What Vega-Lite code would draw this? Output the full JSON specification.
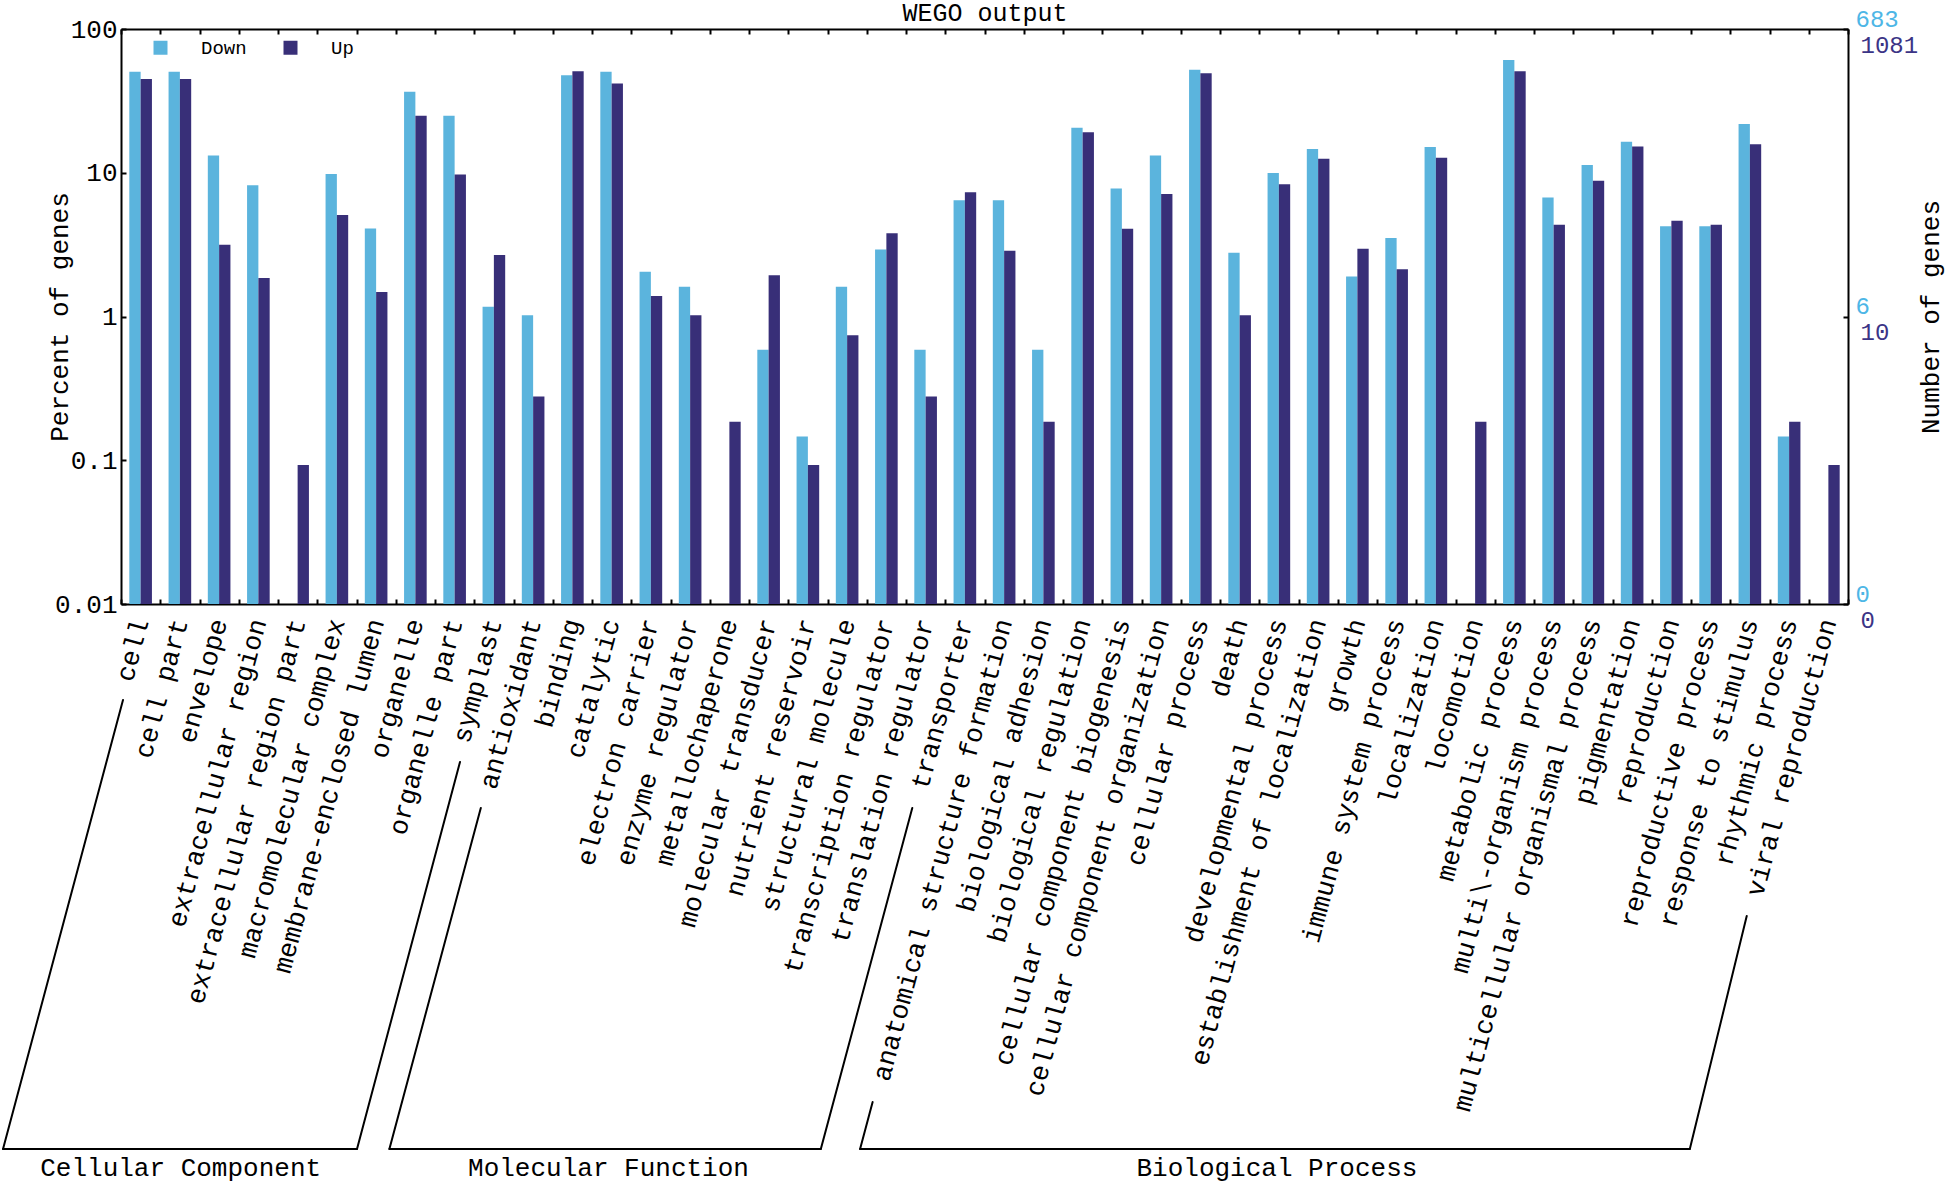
{
  "$schema": "https://vega.github.io/schema/vega-lite/v6.json",
  "width": 1727,
  "height": 575,
  "autosize": "none",
  "padding": {"left": 121, "top": 29, "right": 98, "bottom": 580},
  "background": "white",
  "config": {
    "font": "Liberation Mono",
    "view": {"stroke": null},
    "axis": {"labelFont": "Liberation Mono", "titleFont": "Liberation Mono", "labelColor": "black", "titleColor": "black", "domainColor": "black", "tickColor": "black", "grid": false},
    "legend": {"labelFont": "Liberation Mono"}
  },
  "datasets": {
    "genes": [
      {"term": "cell", "series": "Down", "pct": 50.5}, {"term": "cell", "series": "Up", "pct": 44.9},
      {"term": "cell part", "series": "Down", "pct": 50.5}, {"term": "cell part", "series": "Up", "pct": 44.9},
      {"term": "envelope", "series": "Down", "pct": 13.2}, {"term": "envelope", "series": "Up", "pct": 3.15},
      {"term": "extracellular region", "series": "Down", "pct": 8.2}, {"term": "extracellular region", "series": "Up", "pct": 1.85},
      {"term": "extracellular region part", "series": "Up", "pct": 0.0925},
      {"term": "macromolecular complex", "series": "Down", "pct": 9.81}, {"term": "macromolecular complex", "series": "Up", "pct": 5.09},
      {"term": "membrane-enclosed lumen", "series": "Down", "pct": 4.1}, {"term": "membrane-enclosed lumen", "series": "Up", "pct": 1.48},
      {"term": "organelle", "series": "Down", "pct": 36.6}, {"term": "organelle", "series": "Up", "pct": 24.9},
      {"term": "organelle part", "series": "Down", "pct": 24.9}, {"term": "organelle part", "series": "Up", "pct": 9.71},
      {"term": "symplast", "series": "Down", "pct": 1.17}, {"term": "symplast", "series": "Up", "pct": 2.68},
      {"term": "antioxidant", "series": "Down", "pct": 1.02}, {"term": "antioxidant", "series": "Up", "pct": 0.278},
      {"term": "binding", "series": "Down", "pct": 47.6}, {"term": "binding", "series": "Up", "pct": 50.8},
      {"term": "catalytic", "series": "Down", "pct": 50.5}, {"term": "catalytic", "series": "Up", "pct": 41.7},
      {"term": "electron carrier", "series": "Down", "pct": 2.05}, {"term": "electron carrier", "series": "Up", "pct": 1.39},
      {"term": "enzyme regulator", "series": "Down", "pct": 1.61}, {"term": "enzyme regulator", "series": "Up", "pct": 1.02},
      {"term": "metallochaperone", "series": "Up", "pct": 0.185},
      {"term": "molecular transducer", "series": "Down", "pct": 0.586}, {"term": "molecular transducer", "series": "Up", "pct": 1.94},
      {"term": "nutrient reservoir", "series": "Down", "pct": 0.146}, {"term": "nutrient reservoir", "series": "Up", "pct": 0.0925},
      {"term": "structural molecule", "series": "Down", "pct": 1.61}, {"term": "structural molecule", "series": "Up", "pct": 0.74},
      {"term": "transcription regulator", "series": "Down", "pct": 2.93}, {"term": "transcription regulator", "series": "Up", "pct": 3.79},
      {"term": "translation regulator", "series": "Down", "pct": 0.586}, {"term": "translation regulator", "series": "Up", "pct": 0.278},
      {"term": "transporter", "series": "Down", "pct": 6.44}, {"term": "transporter", "series": "Up", "pct": 7.31},
      {"term": "anatomical structure formation", "series": "Down", "pct": 6.44}, {"term": "anatomical structure formation", "series": "Up", "pct": 2.87},
      {"term": "biological adhesion", "series": "Down", "pct": 0.586}, {"term": "biological adhesion", "series": "Up", "pct": 0.185},
      {"term": "biological regulation", "series": "Down", "pct": 20.6}, {"term": "biological regulation", "series": "Up", "pct": 19.1},
      {"term": "cellular component biogenesis", "series": "Down", "pct": 7.76}, {"term": "cellular component biogenesis", "series": "Up", "pct": 4.07},
      {"term": "cellular component organization", "series": "Down", "pct": 13.2}, {"term": "cellular component organization", "series": "Up", "pct": 7.12},
      {"term": "cellular process", "series": "Down", "pct": 52.1}, {"term": "cellular process", "series": "Up", "pct": 49.2},
      {"term": "death", "series": "Down", "pct": 2.78}, {"term": "death", "series": "Up", "pct": 1.02},
      {"term": "developmental process", "series": "Down", "pct": 9.96}, {"term": "developmental process", "series": "Up", "pct": 8.33},
      {"term": "establishment of localization", "series": "Down", "pct": 14.6}, {"term": "establishment of localization", "series": "Up", "pct": 12.5},
      {"term": "growth", "series": "Down", "pct": 1.9}, {"term": "growth", "series": "Up", "pct": 2.96},
      {"term": "immune system process", "series": "Down", "pct": 3.51}, {"term": "immune system process", "series": "Up", "pct": 2.13},
      {"term": "localization", "series": "Down", "pct": 15.1}, {"term": "localization", "series": "Up", "pct": 12.7},
      {"term": "locomotion", "series": "Up", "pct": 0.185},
      {"term": "metabolic process", "series": "Down", "pct": 60.9}, {"term": "metabolic process", "series": "Up", "pct": 50.8},
      {"term": "multi\\-organism process", "series": "Down", "pct": 6.73}, {"term": "multi\\-organism process", "series": "Up", "pct": 4.35},
      {"term": "multicellular organismal process", "series": "Down", "pct": 11.3}, {"term": "multicellular organismal process", "series": "Up", "pct": 8.79},
      {"term": "pigmentation", "series": "Down", "pct": 16.4}, {"term": "pigmentation", "series": "Up", "pct": 15.2},
      {"term": "reproduction", "series": "Down", "pct": 4.25}, {"term": "reproduction", "series": "Up", "pct": 4.63},
      {"term": "reproductive process", "series": "Down", "pct": 4.25}, {"term": "reproductive process", "series": "Up", "pct": 4.35},
      {"term": "response to stimulus", "series": "Down", "pct": 21.8}, {"term": "response to stimulus", "series": "Up", "pct": 15.8},
      {"term": "rhythmic process", "series": "Down", "pct": 0.146}, {"term": "rhythmic process", "series": "Up", "pct": 0.185},
      {"term": "viral reproduction", "series": "Up", "pct": 0.0925}
    ],
    "brackets": [
      {"x1": 0.051, "y1": 2.446, "x2": -3.006, "y2": 13.885},
      {"x1": -3.006, "y1": 13.885, "x2": 6.013, "y2": 13.885},
      {"x1": 6.013, "y1": 13.885, "x2": 8.637, "y2": 4.025},
      {"x1": 9.167, "y1": 5.197, "x2": 6.838, "y2": 13.885},
      {"x1": 6.838, "y1": 13.885, "x2": 17.83, "y2": 13.885},
      {"x1": 17.83, "y1": 13.885, "x2": 20.16, "y2": 5.197},
      {"x1": 19.15, "y1": 12.69, "x2": 18.83, "y2": 13.885},
      {"x1": 18.83, "y1": 13.885, "x2": 39.97, "y2": 13.885},
      {"x1": 39.97, "y1": 13.885, "x2": 41.42, "y2": 7.949}
    ],
    "groups": [
      {"name": "Cellular Component", "gx": 1.52, "gy": 14.36},
      {"name": "Molecular Function", "gx": 12.42, "gy": 14.36},
      {"name": "Biological Process", "gx": 29.45, "gy": 14.36}
    ]
  },
  "layer": [
    {
      "data": {"name": "genes"},
      "mark": {"type": "bar"},
      "encoding": {
        "x": {"field": "term", "type": "nominal", "sort": null,
          "scale": {"domain": ["cell", "cell part", "envelope", "extracellular region", "extracellular region part", "macromolecular complex", "membrane-enclosed lumen", "organelle", "organelle part", "symplast", "antioxidant", "binding", "catalytic", "electron carrier", "enzyme regulator", "metallochaperone", "molecular transducer", "nutrient reservoir", "structural molecule", "transcription regulator", "translation regulator", "transporter", "anatomical structure formation", "biological adhesion", "biological regulation", "cellular component biogenesis", "cellular component organization", "cellular process", "death", "developmental process", "establishment of localization", "growth", "immune system process", "localization", "locomotion", "metabolic process", "multi\\-organism process", "multicellular organismal process", "pigmentation", "reproduction", "reproductive process", "response to stimulus", "rhythmic process", "viral reproduction"], "paddingInner": 0, "paddingOuter": 0},
          "axis": {"orient": "bottom", "title": null, "labelAngle": -75, "labelAlign": "right", "labelBaseline": "middle", "labelFontSize": 26.5, "labelPadding": 20, "labelLimit": 0, "labelOverlap": false, "tickBand": "extent", "tickSize": -5, "tickWidth": 2, "domainWidth": 2}
        },
        "xOffset": {"field": "series", "type": "nominal", "scale": {"domain": ["Down", "Up"], "paddingInner": 0, "paddingOuter": 0.735}},
        "y": {"field": "pct", "type": "quantitative",
          "scale": {"type": "log", "domain": [0.01, 100], "nice": false},
          "axis": {"orient": "left", "title": "Percent of genes", "values": [0.01, 0.1, 1, 10, 100], "format": "~g", "labelFontSize": 26, "labelPadding": 9, "tickSize": -5, "tickWidth": 2, "domainWidth": 2, "titleFontSize": 26, "titleFontWeight": "normal", "titleX": -62, "titleY": 287.5, "titleAngle": 270, "titleAlign": "center", "titleBaseline": "middle"}
        },
        "y2": {"datum": 0.01},
        "color": {"field": "series", "type": "nominal",
          "scale": {"domain": ["Down", "Up"], "range": ["#5BB4DD", "#382F78"]},
          "legend": {"title": null, "orient": "none", "legendX": 30, "legendY": 9, "direction": "horizontal", "symbolType": "square", "symbolSize": 196, "symbolStrokeWidth": 0, "symbolOpacity": 1, "labelFontSize": 19, "labelOffset": 31, "columnPadding": 34, "padding": 0, "labelColor": "black"}
        }
      }
    },
    {
      "data": {"name": "genes"},
      "mark": {"type": "bar", "opacity": 0},
      "encoding": {
        "x": {"field": "term", "type": "nominal", "sort": null,
          "scale": {"domain": ["cell", "cell part", "envelope", "extracellular region", "extracellular region part", "macromolecular complex", "membrane-enclosed lumen", "organelle", "organelle part", "symplast", "antioxidant", "binding", "catalytic", "electron carrier", "enzyme regulator", "metallochaperone", "molecular transducer", "nutrient reservoir", "structural molecule", "transcription regulator", "translation regulator", "transporter", "anatomical structure formation", "biological adhesion", "biological regulation", "cellular component biogenesis", "cellular component organization", "cellular process", "death", "developmental process", "establishment of localization", "growth", "immune system process", "localization", "locomotion", "metabolic process", "multi\\-organism process", "multicellular organismal process", "pigmentation", "reproduction", "reproductive process", "response to stimulus", "rhythmic process", "viral reproduction"], "paddingInner": 0, "paddingOuter": 0},
          "axis": {"orient": "top", "title": "WEGO output", "titleFontSize": 25, "titleFontWeight": "normal", "titleBaseline": "alphabetic", "titleAlign": "center", "titleX": 863.5, "titleY": -9, "labels": false, "tickBand": "extent", "tickSize": -5, "tickWidth": 2, "domainWidth": 2}
        },
        "y": {"field": "pct", "type": "quantitative",
          "scale": {"type": "log", "domain": [0.01, 100], "nice": false},
          "axis": {"orient": "right", "values": [0.01, 1, 100], "labelExpr": "datum.value < 0.05 ? '0' : (datum.value < 5 ? '6' : '683')", "labelColor": "#4DB6E6", "labelOffset": -10, "labelPadding": 12, "labelFontSize": 24, "tickSize": -5, "tickWidth": 2, "domainWidth": 2, "title": "Number of genes", "titleFontSize": 26, "titleFontWeight": "normal", "titleX": 82, "titleY": 287.5, "titleAngle": 270, "titleAlign": "center", "titleBaseline": "middle"}
        },
        "y2": {"datum": 0.01}
      }
    },
    {
      "data": {"name": "genes"},
      "mark": {"type": "bar", "opacity": 0},
      "encoding": {
        "x": {"field": "term", "type": "nominal", "sort": null,
          "scale": {"domain": ["cell", "cell part", "envelope", "extracellular region", "extracellular region part", "macromolecular complex", "membrane-enclosed lumen", "organelle", "organelle part", "symplast", "antioxidant", "binding", "catalytic", "electron carrier", "enzyme regulator", "metallochaperone", "molecular transducer", "nutrient reservoir", "structural molecule", "transcription regulator", "translation regulator", "transporter", "anatomical structure formation", "biological adhesion", "biological regulation", "cellular component biogenesis", "cellular component organization", "cellular process", "death", "developmental process", "establishment of localization", "growth", "immune system process", "localization", "locomotion", "metabolic process", "multi\\-organism process", "multicellular organismal process", "pigmentation", "reproduction", "reproductive process", "response to stimulus", "rhythmic process", "viral reproduction"], "paddingInner": 0, "paddingOuter": 0},
          "axis": null
        },
        "y": {"field": "pct", "type": "quantitative",
          "scale": {"type": "log", "domain": [0.01, 100], "nice": false},
          "axis": {"orient": "right", "values": [0.01, 1, 100], "labelExpr": "datum.value < 0.05 ? '0' : (datum.value < 5 ? '10' : '1081')", "labelColor": "#3B3486", "labelOffset": 16, "labelPadding": 12, "labelFontSize": 24, "ticks": false, "domain": false, "title": null}
        },
        "y2": {"datum": 0.01}
      }
    },
    {
      "data": {"name": "brackets"},
      "mark": {"type": "rule", "strokeWidth": 2, "color": "black", "strokeCap": "round"},
      "encoding": {
        "x": {"field": "x1", "type": "quantitative", "scale": {"domain": [0, 44], "nice": false, "zero": false}, "axis": null},
        "x2": {"field": "x2"},
        "y": {"field": "y1", "type": "quantitative", "scale": {"domain": [0, 14], "range": [575, 1124.5], "nice": false, "zero": false}, "axis": null},
        "y2": {"field": "y2"}
      }
    },
    {
      "data": {"name": "groups"},
      "mark": {"type": "text", "fontSize": 26, "font": "Liberation Mono", "baseline": "middle", "align": "center", "color": "black"},
      "encoding": {
        "x": {"field": "gx", "type": "quantitative", "scale": {"domain": [0, 44], "nice": false, "zero": false}, "axis": null},
        "y": {"field": "gy", "type": "quantitative", "scale": {"domain": [0, 14], "range": [575, 1124.5], "nice": false, "zero": false}, "axis": null},
        "text": {"field": "name"}
      }
    }
  ],
  "resolve": {
    "scale": {"x": "independent", "y": "independent"},
    "axis": {"x": "independent", "y": "independent"}
  }
}
